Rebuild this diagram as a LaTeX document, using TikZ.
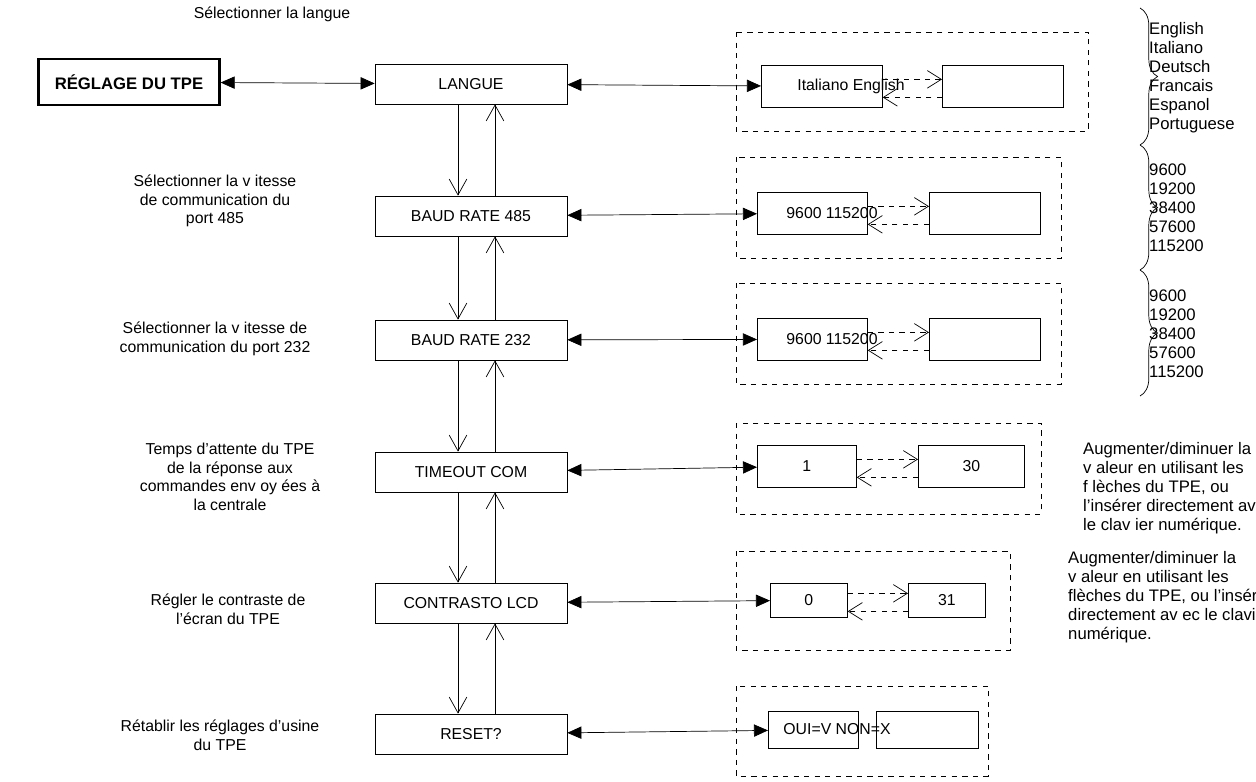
\documentclass[tikz,border=0pt]{standalone}
\usepackage{fontspec}
\setmainfont{Liberation Sans}
\usetikzlibrary{arrows.meta,decorations.pathreplacing}
\begin{document}
\begin{tikzpicture}[x=0.02cm,y=-0.02cm,
    font=\fontsize{9}{10.6}\selectfont,
    menu/.style={draw,minimum width=3.84cm,minimum height=0.8cm,inner sep=0pt},
    val/.style={draw,anchor=north west,inner sep=0pt},
    grp/.style={draw,dashed,thin},
    link/.style={{Triangle[length=8pt,width=7pt]}-{Triangle[length=8pt,width=7pt]}},
    updown/.style={-{Straight Barb[length=9pt,width=10pt]}},
    back/.style={dashed,-{Straight Barb[length=8pt,width=10pt]}},
    note/.style={align=center},
    list/.style={align=left,anchor=north west,font=\fontsize{9.5}{10.8}\selectfont}]
    \useasboundingbox (0,0) rectangle (1256,781);

    \node at (272,14) {Sélectionner la langue};
    \node[draw,line width=1.3pt,minimum width=3.62cm,minimum height=0.92cm,font=\fontsize{9.5}{11}\selectfont\bfseries] (tpe) at (129,82) {RÉGLAGE DU TPE};

    % menu column
    \node[menu] (langue) at (471,84) {LANGUE};
    \node[menu] (b485) at (471,216) {BAUD RATE 485};
    \node[menu] (b232) at (471,340) {BAUD RATE 232};
    \node[menu] (tout) at (471,472) {TIMEOUT COM};
    \node[menu] (lcd) at (471,603) {CONTRASTO LCD};
    \node[menu] (reset) at (471,734) {RESET?};

    \draw[link] (tpe) -- (langue);
    \foreach \a/\b in {langue/b485,b485/b232,b232/tout,tout/lcd,lcd/reset} {
        \draw[updown] ([xshift=-0.26cm]\a.south) -- ([xshift=-0.26cm]\b.north);
        \draw[updown] ([xshift=0.48cm]\b.north) -- ([xshift=0.48cm]\a.south);
    }

    % dashed groups
    \draw[grp] (736,32) rectangle (1088,131);
    \draw[grp] (736,157) rectangle (1061,258);
    \draw[grp] (736,283) rectangle (1061,384);
    \draw[grp] (736,423) rectangle (1041,514);
    \draw[grp] (736,551) rectangle (1010,650);
    \draw[grp] (736,686) rectangle (988,776);

    % value boxes
    \node[val,minimum width=2.42cm,minimum height=0.84cm] (l1) at (761,65) {};
    \node[val,minimum width=2.42cm,minimum height=0.84cm] (l2) at (942,65) {};
    \node at (851,86) {Italiano English};
    \node[val,minimum width=2.2cm,minimum height=0.84cm] (r1) at (757,192) {};
    \node[val,minimum width=2.22cm,minimum height=0.84cm] (r2) at (929,192) {};
    \node at (832,213) {9600 115200};
    \node[val,minimum width=2.2cm,minimum height=0.84cm] (s1) at (757,318) {};
    \node[val,minimum width=2.22cm,minimum height=0.84cm] (s2) at (929,318) {};
    \node at (832,339) {9600 115200};
    \node[val,minimum width=1.98cm,minimum height=0.84cm] (t1) at (757,445) {1};
    \node[val,minimum width=2.12cm,minimum height=0.84cm] (t2) at (918,445) {30};
    \node[val,minimum width=1.54cm,minimum height=0.68cm] (c1) at (770,583) {0};
    \node[val,minimum width=1.54cm,minimum height=0.68cm] (c2) at (908,583) {31};
    \node[val,minimum width=1.8cm,minimum height=0.74cm] (o1) at (768,711) {};
    \node[val,minimum width=2.04cm,minimum height=0.74cm] (o2) at (876,711) {};
    \node at (837,729) {OUI=V NON=X};

    \draw[link] (langue) -- (l1);
    \draw[link] (b485) -- (r1);
    \draw[link] (b232) -- (s1);
    \draw[link] (tout) -- (t1);
    \draw[link] (lcd) -- (c1);
    \draw[link] (reset) -- (o1);
    \foreach \a/\b in {l1/l2,r1/r2,s1/s2,t1/t2,c1/c2} {
        \draw[back] ([yshift=0.14cm]\a.east) -- ([yshift=0.14cm]\b.west);
        \draw[back] ([yshift=-0.22cm]\b.west) -- ([yshift=-0.22cm]\a.east);
    }

    % braces
    \draw[decorate,decoration={brace,amplitude=10pt}] (1140,8) -- (1140,145);
    \draw[decorate,decoration={brace,amplitude=10pt}] (1140,145) -- (1140,270);
    \draw[decorate,decoration={brace,amplitude=10pt}] (1140,270) -- (1140,396);
    \node[list] (langs) at (1143,16) {English\\Italiano\\Deutsch\\Francais\\Espanol\\Portuguese};
    \node[list] (rates1) at (1143,158) {9600\\19200\\38400\\57600\\115200};
    \node[list] (rates2) at (1143,284) {9600\\19200\\38400\\57600\\115200};

    % descriptions
    \node[note] at (215,201) {Sélectionner la v itesse\\de communication du\\port 485};
    \node[note] at (215,339) {Sélectionner la v itesse de\\communication du port 232};
    \node[note] at (230,477) {Temps d’attente du TPE\\de la réponse aux\\commandes env oy ées à\\la centrale};
    \node[note] at (228,609) {Régler le contraste de\\l’écran du TPE};
    \node[note] at (220,735) {Rétablir les réglages d’usine\\du TPE};
    \node[list] at (1077,436) {Augmenter/diminuer la\\v aleur en utilisant les\\f lèches du TPE, ou\\l’insérer directement av\\le clav ier numérique.};
    \node[list] at (1062,545) {Augmenter/diminuer la\\v aleur en utilisant les\\flèches du TPE, ou l’insérer\\directement av ec le clavier\\numérique.};
\end{tikzpicture}
\end{document}
